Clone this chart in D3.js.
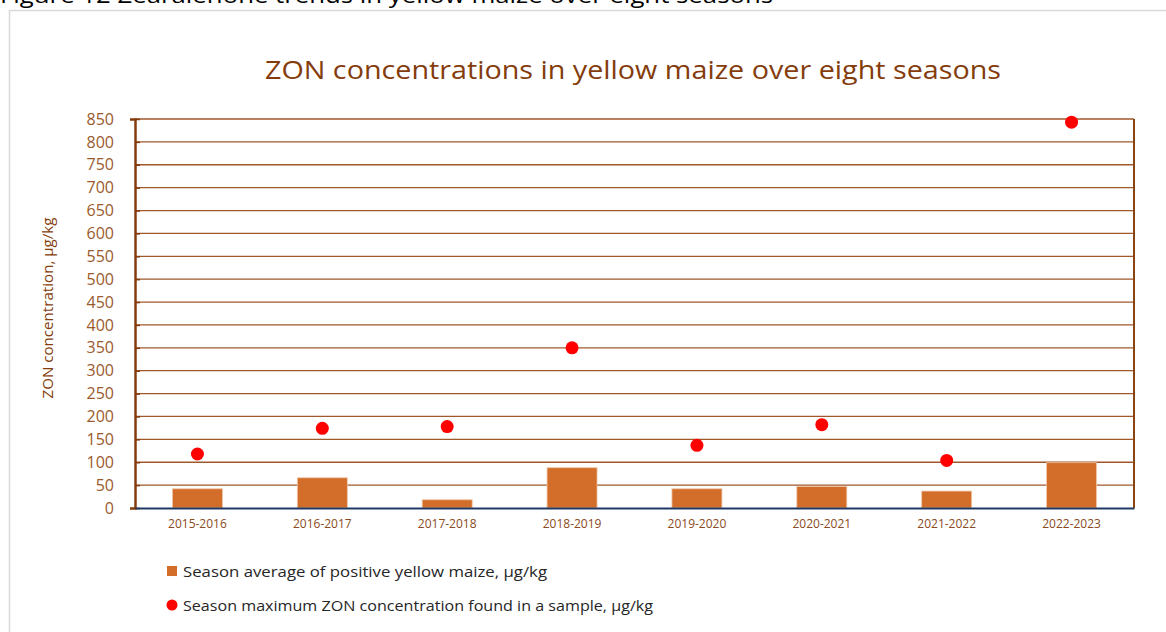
<!DOCTYPE html>
<html><head><meta charset="utf-8">
<script src="https://cdn.jsdelivr.net/npm/d3@7"></script>
<style>body{margin:0;background:#fff;}svg{display:block;}</style>
</head><body>
<script>
const seasons = ["2015-2016","2016-2017","2017-2018","2018-2019","2019-2020","2020-2021","2021-2022","2022-2023"];
const avgValues = [42, 66, 18, 88, 42, 47, 37, 99];
const maxValues = [118, 174, 178, 350, 137, 182, 104, 843];
const yTicks = [0,50,100,150,200,250,300,350,400,450,500,550,600,650,700,750,800,850];
const legendLabels = ["Season average of positive yellow maize, µg/kg","Season maximum ZON concentration found in a sample, µg/kg"];

const W = 1166, H = 632;
const svg = d3.select("body").append("svg").attr("width", W).attr("height", H);
const font = "'Open Sans', 'Noto Sans', sans-serif";

// caption (cut off at top)
svg.append("text").attr("x", 0).attr("y", 3).attr("font-family", "'Open Sans', sans-serif")
  .attr("font-size", 22).attr("fill", "#000").attr("textLength", 773).attr("lengthAdjust", "spacingAndGlyphs")
  .text("Figure 12 Zearalenone trends in yellow maize over eight seasons");
// chart frame
svg.append("rect").attr("x", 9.5).attr("y", 10.5).attr("width", 1170).attr("height", 640)
  .attr("fill", "#fff").attr("stroke", "#d9d9d9").attr("stroke-width", 1.5);

const L = 135, R = 1134, T = 119, B = 508;
const xc = d3.scaleBand().domain(seasons).range([L, R]);
const y = d3.scaleLinear().domain([0, 850]).range([B, T]);

svg.append("text").attr("x", 265).attr("y", 79)
  .attr("font-family", font).attr("font-size", 26).attr("fill", "#843c0c")
  .attr("textLength", 736).attr("lengthAdjust", "spacingAndGlyphs")
  .text("ZON concentrations in yellow maize over eight seasons");

// gridlines
svg.append("g").selectAll("line").data(yTicks.filter(d => d > 0)).join("line")
  .attr("x1", L).attr("x2", R).attr("y1", d => y(d)).attr("y2", d => y(d))
  .attr("stroke", "#a0572a").attr("stroke-width", 1.3);
// right border
svg.append("line").attr("x1", R).attr("x2", R).attr("y1", T).attr("y2", B)
  .attr("stroke", "#8b4513").attr("stroke-width", 2);

// y axis
const yAxis = svg.append("g").attr("transform", `translate(${L},0)`)
  .call(d3.axisLeft(y).tickValues(yTicks).tickSize(5).tickPadding(16));
yAxis.select(".domain").attr("stroke", "#843c0c").attr("stroke-width", 2.5);
yAxis.selectAll(".tick line").attr("stroke", "#843c0c").attr("stroke-width", 1.5).attr("x1", 0).attr("x2", 5);
yAxis.selectAll("text").attr("font-family", font).attr("font-size", 16).attr("fill", "#9a5a2e");

// bars
svg.append("g").selectAll("rect").data(seasons).join("rect")
  .attr("x", (d) => xc(d) + xc.bandwidth()/2 - 25).attr("width", 50)
  .attr("y", (d, i) => y(avgValues[i])).attr("height", (d, i) => B - y(avgValues[i]))
  .attr("fill", "#d26e2a").attr("stroke", "#f0c8a8").attr("stroke-width", 0.8);

// x axis
const xAxis = svg.append("g").attr("transform", `translate(0,${B})`)
  .call(d3.axisBottom(xc).tickSize(0).tickPadding(11));
xAxis.select(".domain").attr("stroke", "#1f3864").attr("stroke-width", 2);
xAxis.selectAll("text").attr("font-family", font).attr("font-size", 12).attr("fill", "#8b4a22");

// dots
svg.append("g").selectAll("circle").data(seasons).join("circle")
  .attr("cx", d => xc(d) + xc.bandwidth()/2).attr("cy", (d, i) => y(maxValues[i]))
  .attr("r", 6.5).attr("fill", "#ff0000");

// y label
svg.append("text").attr("transform", "translate(53,308) rotate(-90)").attr("text-anchor", "middle")
  .attr("font-family", font).attr("font-size", 14).attr("fill", "#843c0c")
  .attr("textLength", 181).attr("lengthAdjust", "spacingAndGlyphs")
  .text("ZON concentration, µg/kg");

// legend
const lg = svg.append("g");
lg.append("rect").attr("x", 167).attr("y", 566).attr("width", 10).attr("height", 10).attr("fill", "#d26e2a");
lg.append("text").attr("x", 183).attr("y", 577).attr("font-family", font).attr("font-size", 15).attr("fill", "#262626")
  .attr("textLength", 364).attr("lengthAdjust", "spacingAndGlyphs").text(legendLabels[0]);
lg.append("circle").attr("cx", 172).attr("cy", 605).attr("r", 5.5).attr("fill", "#ff0000");
lg.append("text").attr("x", 183).attr("y", 611).attr("font-family", font).attr("font-size", 15).attr("fill", "#262626")
  .attr("textLength", 470).attr("lengthAdjust", "spacingAndGlyphs").text(legendLabels[1]);
</script>
</body></html>
